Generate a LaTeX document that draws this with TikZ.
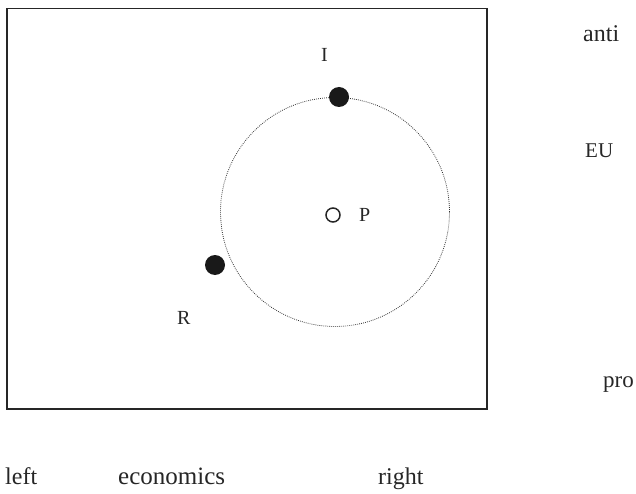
\documentclass[tikz,border=0pt]{standalone}
\usepackage{fontspec}
\setmainfont{Liberation Serif}
\begin{document}
\begin{tikzpicture}[x=1pt,y=-1pt,
  lab/.style={inner sep=0pt,anchor=base west,text=black!85},
  bigdot/.style={circle,fill=black!90,inner sep=0pt,minimum size=20pt},
  opendot/.style={circle,draw=black!85,line width=1.5pt,inner sep=0pt,minimum size=14pt},
  ringstyle/.style={circle,draw=black!80,line width=0.8pt,dash pattern=on 0.8pt off 1.2pt,inner sep=0pt,minimum size=229pt}]
\useasboundingbox (0,0) rectangle (636,494);
\node[draw=black!85,line width=1.5pt,inner sep=0pt,minimum width=480pt,minimum height=400pt,anchor=north west] (frame) at (6,8) {};
\node[ringstyle] (ring) at (335,212) {};
\node[bigdot] (I) at (339,97) {};
\node[bigdot] (R) at (215,265) {};
\node[opendot] (P) at (333,215) {};
\node[lab,font=\fontsize{20}{23}\selectfont] (Il) at (321,62) {I};
\node[lab,font=\fontsize{20}{23}\selectfont] (Rl) at (177,324) {R};
\node[lab,font=\fontsize{20}{23}\selectfont] (Pl) at (359,222) {P};
\node[lab,font=\fontsize{24}{28}\selectfont] (anti) at (583,42) {anti};
\node[lab,font=\fontsize{21}{24}\selectfont] (EU) at (585,158) {EU};
\node[lab,font=\fontsize{23}{27}\selectfont] (pro) at (603,387) {pro};
\node[lab,font=\fontsize{24}{28}\selectfont] (left) at (5,484) {left};
\node[lab,font=\fontsize{25}{28}\selectfont] (econ) at (118,484) {economics};
\node[lab,font=\fontsize{24}{28}\selectfont] (right) at (378,484) {right};
\end{tikzpicture}
\end{document}
